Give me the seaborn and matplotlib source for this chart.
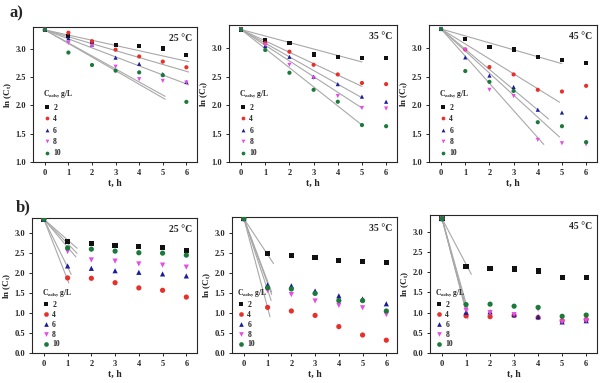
import numpy as np
import pandas as pd
import matplotlib
matplotlib.use("Agg")
import matplotlib.pyplot as plt
import seaborn as sns

# ---------------- data ----------------
t_hours = [0, 1, 2, 3, 4, 5, 6]
doses = ["2", "4", "6", "8", "10"]
temps = ["25 °C", "35 °C", "45 °C"]

# panel a) 25 °C
a25_2 = [3.33, 3.22, 3.12, 3.06, 3.04, 3.00, 2.89]
a25_4 = [3.33, 3.28, 3.13, 2.98, 2.86, 2.77, 2.67]
a25_6 = [3.33, 3.18, 3.07, 2.84, 2.73, 2.55, 2.41]
a25_8 = [3.33, 3.10, 3.05, 2.68, 2.46, 2.43, 2.40]
a25_10 = [3.33, 2.93, 2.71, 2.61, 2.58, 2.53, 2.06]
# panel a) 35 °C
a35_2 = [3.33, 3.15, 3.10, 2.89, 2.84, 2.83, 2.83]
a35_4 = [3.33, 3.09, 2.94, 2.71, 2.54, 2.39, 2.37]
a35_6 = [3.33, 3.04, 2.85, 2.50, 2.37, 2.15, 2.06]
a35_8 = [3.33, 3.06, 2.71, 2.48, 2.16, 1.95, 1.94]
a35_10 = [3.33, 2.97, 2.57, 2.27, 2.06, 1.65, 1.63]
# panel a) 45 °C
a45_2 = [3.34, 3.16, 3.03, 2.98, 2.85, 2.80, 2.74]
a45_4 = [3.34, 2.98, 2.67, 2.54, 2.27, 2.24, 2.34]
a45_6 = [3.34, 2.84, 2.52, 2.32, 1.92, 1.87, 1.79]
a45_8 = [3.34, 2.97, 2.27, 2.16, 1.39, 1.33, 1.31]
a45_10 = [3.34, 2.60, 2.41, 2.25, 1.70, 1.63, 1.35]
# panel b) 25 °C
b25_2 = [3.35, 2.79, 2.75, 2.70, 2.67, 2.64, 2.57]
b25_4 = [3.35, 1.88, 1.87, 1.76, 1.63, 1.57, 1.40]
b25_6 = [3.35, 2.18, 2.12, 2.06, 2.02, 1.98, 1.93]
b25_8 = [3.35, 2.54, 2.33, 2.30, 2.23, 2.20, 2.15]
b25_10 = [3.35, 2.63, 2.60, 2.55, 2.51, 2.50, 2.45]
# panel b) 35 °C
b35_2 = [3.36, 2.49, 2.43, 2.38, 2.32, 2.29, 2.27]
b35_4 = [3.36, 1.14, 1.05, 0.94, 0.66, 0.45, 0.32]
b35_6 = [3.36, 1.70, 1.68, 1.55, 1.43, 1.35, 1.23]
b35_8 = [3.36, 1.56, 1.46, 1.30, 1.19, 1.13, 0.96]
b35_10 = [3.36, 1.63, 1.60, 1.49, 1.31, 1.31, 1.05]
# panel b) 45 °C
b45_2 = [3.33, 2.15, 2.10, 2.08, 2.03, 1.87, 1.87]
b45_4 = [3.33, 0.92, 0.90, 0.93, 0.88, 0.80, 0.83]
b45_6 = [3.33, 1.01, 1.02, 0.95, 0.90, 0.77, 0.80]
b45_8 = [3.33, 1.06, 1.00, 0.95, 1.09, 0.77, 0.80]
b45_10 = [3.33, 1.20, 1.21, 1.16, 1.13, 0.91, 0.94]

# fitted kinetic lines: slopes (per h) and last time of each fitted line
a25_slope = [-0.092, -0.122, -0.159, -0.23, -0.24]
a25_tend = [6.1, 6.1, 6.1, 5.1, 5.1]
a35_slope = [-0.114, -0.20, -0.24, -0.276, -0.336]
a35_tend = [5.0, 5.0, 5.0, 5.0, 5.0]
a45_slope = [-0.122, -0.263, -0.356, -0.478, -0.388]
a45_tend = [5.0, 4.9, 4.45, 4.25, 4.9]
b25_slope = [-0.52, -1.52, -1.20, -0.70, -0.61]
b25_tend = [1.4, 1.05, 1.15, 1.35, 1.4]
b35_slope = [-0.90, -2.23, -1.57, -1.78, -1.62]
b35_tend = [1.25, 1.1, 1.17, 1.15, 1.17]
b45_slope = [-1.13, -2.3, -2.25, -2.2, -2.1]
b45_tend = [1.22, 1.08, 1.08, 1.08, 1.08]

# ---------------- style ----------------
sns.set_theme(style="ticks")
plt.rcParams["font.family"] = ["Liberation Serif", "DejaVu Serif"]
plt.rcParams["font.weight"] = "bold"
plt.rcParams["axes.labelweight"] = "bold"
plt.rcParams["mathtext.fontset"] = "custom"
plt.rcParams["mathtext.rm"] = "Liberation Serif:bold"
plt.rcParams["mathtext.it"] = "Liberation Serif:bold"
plt.rcParams["mathtext.bf"] = "Liberation Serif:bold"
plt.rcParams["mathtext.default"] = "rm"

palette = {"2": "#111111", "4": "#e8302a", "6": "#1c1c9c", "8": "#e64ce6", "10": "#1a7a3a"}
markers = {"2": "s", "4": "o", "6": "^", "8": "v", "10": "o"}

W, H = 600, 383
fig = plt.figure(figsize=(6.0, 3.83), dpi=100)


def rect(l, r, t, b):
    return [l / W, 1 - b / H, (r - l) / W, (b - t) / H]


panels = [
    dict(pos=rect(33, 197, 27, 162), series=[a25_2, a25_4, a25_6, a25_8, a25_10],
         slope=a25_slope, tend=a25_tend, temp=temps[0], ylim=(1.0, 3.38),
         yt=[1.0, 1.5, 2.0, 2.5, 3.0], ms=9, leg=(0.03, 0.0), lsp=0.45),
    dict(pos=rect(229, 397, 25, 162), series=[a35_2, a35_4, a35_6, a35_8, a35_10],
         slope=a35_slope, tend=a35_tend, temp=temps[1], ylim=(1.0, 3.41),
         yt=[1.0, 1.5, 2.0, 2.5, 3.0], ms=9, leg=(0.03, 0.0), lsp=0.45),
    dict(pos=rect(429, 597, 25, 162), series=[a45_2, a45_4, a45_6, a45_8, a45_10],
         slope=a45_slope, tend=a45_tend, temp=temps[2], ylim=(1.0, 3.41),
         yt=[1.0, 1.5, 2.0, 2.5, 3.0], ms=9, leg=(0.03, 0.0), lsp=0.45),
    dict(pos=rect(32, 197, 218, 353), series=[b25_2, b25_4, b25_6, b25_8, b25_10],
         slope=b25_slope, tend=b25_tend, temp=temps[0], ylim=(0.0, 3.38),
         yt=[0.0, 0.5, 1.0, 1.5, 2.0, 2.5, 3.0], ms=14, leg=(0.03, 0.0), lsp=0.25),
    dict(pos=rect(232, 397, 217, 353), series=[b35_2, b35_4, b35_6, b35_8, b35_10],
         slope=b35_slope, tend=b35_tend, temp=temps[1], ylim=(0.0, 3.4),
         yt=[0.0, 0.5, 1.0, 1.5, 2.0, 2.5, 3.0], ms=14, leg=(0.0, 0.0), lsp=0.25),
    dict(pos=rect(430, 597, 215, 353), series=[b45_2, b45_4, b45_6, b45_8, b45_10],
         slope=b45_slope, tend=b45_tend, temp=temps[2], ylim=(0.0, 3.42),
         yt=[0.0, 0.5, 1.0, 1.5, 2.0, 2.5, 3.0], ms=14, leg=(0.0, 0.0), lsp=0.25),
]

for p in panels:
    ax = fig.add_axes(p["pos"])
    # fitted lines
    for vals, k, te in zip(p["series"], p["slope"], p["tend"]):
        tt = np.array([0.0, te])
        ax.plot(tt, vals[0] + k * tt, color="#a8a8a8", lw=0.8, zorder=1)
    rows = []
    for d, vals in zip(doses, p["series"]):
        for t, v in zip(t_hours, vals):
            rows.append({"t": t, "lnC": v, "dose": d})
    df = pd.DataFrame(rows)
    sns.scatterplot(data=df, x="t", y="lnC", hue="dose", style="dose",
                    hue_order=doses, style_order=doses, palette=palette,
                    markers=markers, s=p["ms"], linewidth=0, ax=ax, zorder=3)
    ax.set_xlim(-0.5, 6.45)
    ax.set_ylim(*p["ylim"])
    ax.set_xticks(t_hours)
    ax.set_yticks(p["yt"])
    ax.set_xticklabels([str(t) for t in t_hours])
    ax.set_yticklabels([f"{y:.1f}" for y in p["yt"]])
    ax.tick_params(labelsize=6, length=2.5, width=0.7, pad=2.5, direction="out")
    for lab in ax.get_xticklabels() + ax.get_yticklabels():
        lab.set_fontweight("bold")
    for s in ax.spines.values():
        s.set_linewidth(0.8)
        s.set_visible(True)
    ax.set_xlabel("t, h", fontsize=7, fontweight="bold", labelpad=1.5)
    ax.set_ylabel("ln (C$_t$)", fontsize=6.5, fontweight="bold", labelpad=1)
    ax.text(0.97, 0.95, p["temp"], transform=ax.transAxes, ha="right", va="top",
            fontsize=7, fontweight="bold")
    leg = ax.legend(title="C$_{ads}$, g/L", loc="lower left", bbox_to_anchor=p["leg"],
                    frameon=False, fontsize=5.5, title_fontsize=5.5,
                    handletextpad=0.2, labelspacing=p["lsp"], borderaxespad=0.2,
                    markerscale=0.9, handlelength=1.2)
    leg._legend_box.align = "left"
    for txt in leg.get_texts():
        txt.set_fontweight("bold")

fig.text(10 / W, 1 - 17 / H, "a)", fontsize=12, fontweight="bold", ha="left", va="baseline")
fig.text(16 / W, 1 - 211 / H, "b)", fontsize=12, fontweight="bold", ha="left", va="baseline")

fig.savefig("out.png", dpi=100)
